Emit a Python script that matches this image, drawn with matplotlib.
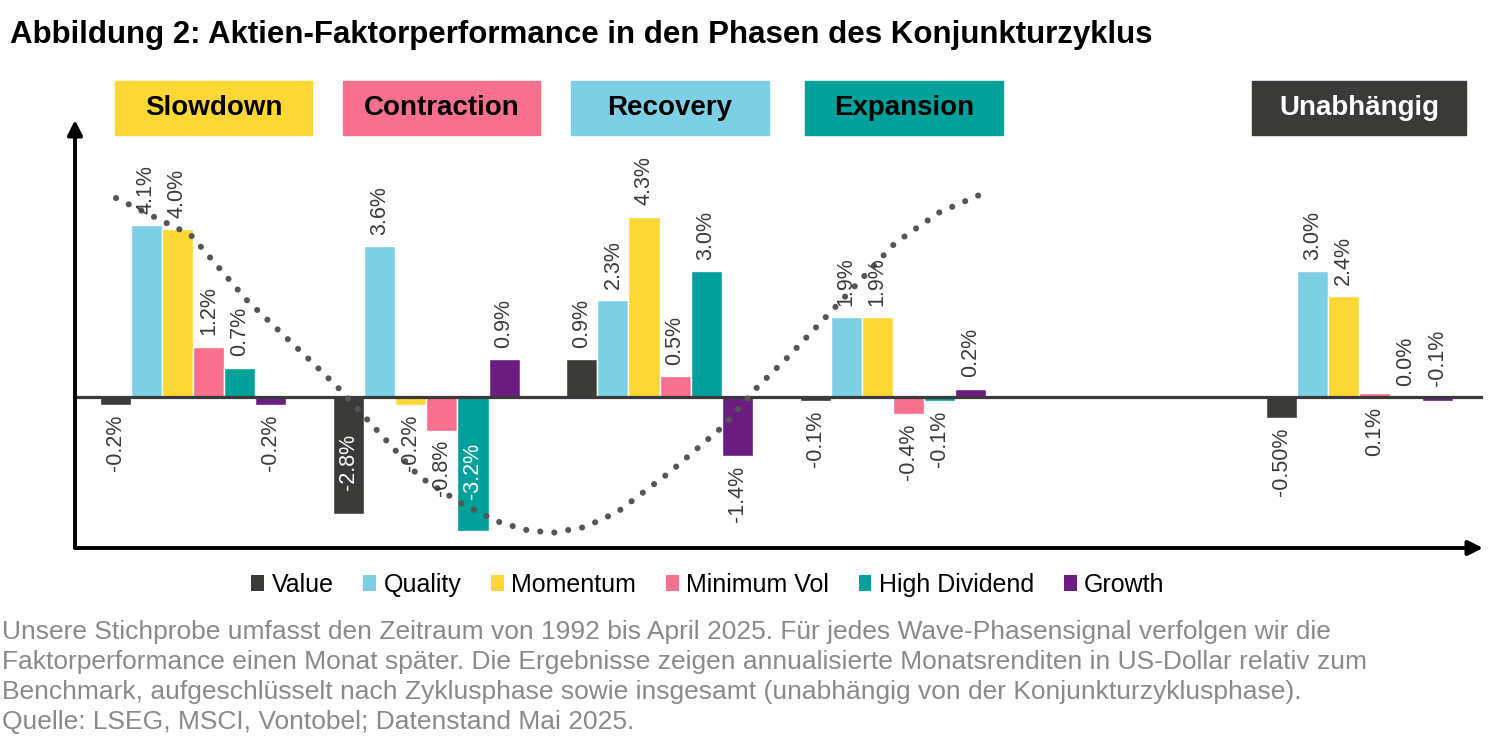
import matplotlib
matplotlib.use("Agg")
import matplotlib.pyplot as plt
from matplotlib.patches import Rectangle
import numpy as np

plt.rcParams['font.family'] = ['Liberation Sans', 'DejaVu Sans']

# phases (the empty slot is the gap before "Unabhängig")
phases = ['Slowdown', 'Contraction', 'Recovery', 'Expansion', '', 'Unabhängig']
factors = ['Value', 'Quality', 'Momentum', 'Minimum Vol', 'High Dividend', 'Growth']

value = [-0.2, -2.8, 0.9, -0.1, np.nan, -0.5]
quality = [4.1, 3.6, 2.3, 1.9, np.nan, 3.0]
momentum = [4.0, -0.2, 4.3, 1.9, np.nan, 2.4]
min_vol = [1.2, -0.8, 0.5, -0.4, np.nan, 0.1]
high_div = [0.7, -3.2, 3.0, -0.1, np.nan, 0.0]
growth = [-0.2, 0.9, -1.4, 0.2, np.nan, -0.1]
series = [value, quality, momentum, min_vol, high_div, growth]

colors = ['#3a3b38', '#7dd0e3', '#fdd835', '#f7708e', '#00a19a', '#6b1e80']
box_colors = ['#fdd835', '#f7708e', '#7dd0e3', '#00a19a', None, '#3a3b38']

# special label text / side as printed in the original
label_text = {(5, 0): '-0.50%'}
flip_side = {(5, 3), (5, 5)}
inside_white = {(1, 0), (1, 4)}

# dotted business-cycle curve
cycle_x = [-0.33, -0.01, 0.23, 0.51, 0.64, 0.76, 0.97, 1.16, 1.32, 1.43, 1.54,
           1.68, 1.82, 2.04, 2.27, 2.42, 2.55, 2.77, 3.01, 3.20, 3.37]
cycle_y = [4.74, 3.86, 2.31, 0.83, 0.12, -0.62, -1.90, -2.57, -3.00, -3.17, -3.24,
           -3.10, -2.74, -1.81, -0.71, 0.24, 0.95, 2.24, 3.67, 4.40, 4.81]

W, H = 1500, 739
fig = plt.figure(figsize=(15, 7.39), dpi=100)
ax = fig.add_axes([75 / W, (H - 548) / H, (1483 - 75) / W, (548 - 120) / H])

n = len(factors)
bw = 0.8 / n
xs = np.arange(len(phases))
for j, (name, vals) in enumerate(zip(factors, series)):
    pos = xs + (j - (n - 1) / 2) * bw
    for i, v in enumerate(vals):
        if np.isnan(v):
            continue
        ax.bar(pos[i], v, width=bw, color=colors[j], edgecolor='white', linewidth=1, zorder=2)
        txt = label_text.get((i, j), '{:.1f}%'.format(v))
        if (i, j) in inside_white:
            ax.text(pos[i], v * 0.55, txt, rotation=90, ha='center', va='center',
                    color='white', fontsize=15.5, zorder=5)
            continue
        up = v >= 0
        if (i, j) in flip_side:
            up = not up
        ax.annotate(txt, (pos[i], v if (v >= 0) == up else 0),
                    xytext=(0, 8 if up else -7), textcoords='offset points',
                    ha='center', va='bottom' if up else 'top', rotation=90,
                    fontsize=15.5, color='#3a3a3a', zorder=5)
    ax.bar(np.nan, np.nan, color=colors[j], label=name)

ax.axhline(0, color='#3a3a3a', lw=2.3, zorder=3)
ax.plot(cycle_x, cycle_y, color='#555555', lw=4.4, linestyle=(0, (0.01, 2.3)),
        dash_capstyle='round', zorder=4)

ax.set_xlim(-0.506, 5.53)
ax.set_ylim(-3.6, 6.6)
ax.axis('off')
ax.annotate('', xy=(0, 1), xytext=(0, 0), xycoords='axes fraction',
            arrowprops=dict(arrowstyle='-|>', lw=2.8, color='black', mutation_scale=22,
                            shrinkA=0, shrinkB=0))
ax.annotate('', xy=(1, 0), xytext=(0, 0), xycoords='axes fraction',
            arrowprops=dict(arrowstyle='-|>', lw=2.8, color='black', mutation_scale=22,
                            shrinkA=0, shrinkB=0))

# phase header boxes (pixel layout)
box_px = [(115, 312), (343, 540), (571, 769), (805, 1003), None, (1252, 1466)]
for name, col, bx in zip(phases, box_colors, box_px):
    if bx is None:
        continue
    x0, x1 = bx
    fig.patches.append(Rectangle((x0 / W, (H - 135) / H), (x1 - x0) / W, 54 / H,
                                 transform=fig.transFigure, color=col, zorder=0))
    fig.text((x0 + x1) / 2 / W, (H - 108) / H, name, ha='center', va='center',
             fontsize=20, fontweight='bold',
             color='white' if name == 'Unabhängig' else 'black')

fig.text(10 / W, (H - 35) / H, 'Abbildung 2: Aktien-Faktorperformance in den Phasen des Konjunkturzyklus',
         fontsize=22.5, fontweight='bold', va='center', ha='left')

fig.legend(loc='center', bbox_to_anchor=(708 / W, (H - 585) / H), ncol=6, frameon=False,
           fontsize=18, handlelength=0.5, handleheight=0.6, handletextpad=0.3,
           columnspacing=1.2)

note = ('Unsere Stichprobe umfasst den Zeitraum von 1992 bis April 2025. F\u00fcr jedes Wave-Phasensignal verfolgen wir die\n'
        'Faktorperformance einen Monat sp\u00e4ter. Die Ergebnisse zeigen annualisierte Monatsrenditen in US-Dollar relativ zum\n'
        'Benchmark, aufgeschl\u00fcsselt nach Zyklusphase sowie insgesamt (unabh\u00e4ngig von der Konjunkturzyklusphase).\n'
        'Quelle: LSEG, MSCI, Vontobel; Datenstand Mai 2025.')
fig.text(2 / W, (H - 620) / H, note, fontsize=19, color='#8a8a8a', va='top', ha='left',
         linespacing=1.32)

fig.savefig('out.png', dpi=100)
